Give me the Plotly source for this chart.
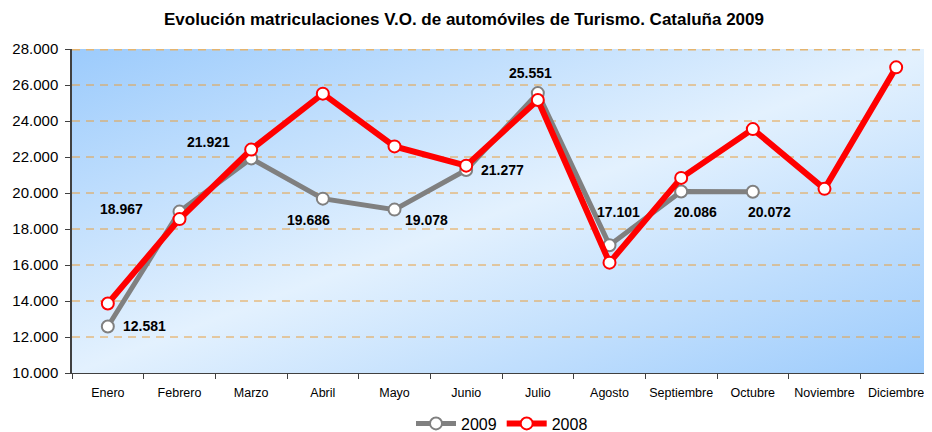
import base64
import plotly.graph_objects as go

months = ["Enero", "Febrero", "Marzo", "Abril", "Mayo", "Junio", "Julio",
          "Agosto", "Septiembre", "Octubre", "Noviembre", "Diciembre"]
v2009 = [12581, 18967, 21921, 19686, 19078, 21277, 25551, 17101, 20086, 20072]
v2008 = [13860, 18550, 22410, 25520, 22590, 21520, 25170, 16130, 20840, 23550, 20230, 26980]
y_ticks = [10000, 12000, 14000, 16000, 18000, 20000, 22000, 24000, 26000, 28000]

# label offsets (pixels) for the 2009 data labels
label_dx = [37, -58, -43, -14, 32, 36, -7, 9, 14, 17]
label_dy = [1, 3, 16, -21, -10, 0, 20, 33, -21, -20]

def fmt(v):
    return f"{v:,}".replace(",", ".")

svg = ('<svg xmlns="http://www.w3.org/2000/svg" width="100" height="100" '
       'preserveAspectRatio="none" viewBox="0 0 100 100">'
       '<defs><linearGradient id="g" x1="0" y1="0" x2="1" y2="1">'
       '<stop offset="0" stop-color="#9CCBFC"/>'
       '<stop offset="0.5" stop-color="#E3F1FE"/>'
       '<stop offset="1" stop-color="#9CCBFC"/>'
       '</linearGradient></defs>'
       '<rect width="100" height="100" fill="url(#g)"/></svg>')
bg_src = "data:image/svg+xml;base64," + base64.b64encode(svg.encode()).decode()

fig = go.Figure()
fig.add_trace(go.Scatter(
    x=months[:len(v2009)], y=v2009, name="2009", mode="lines+markers",
    line=dict(color="#808080", width=5),
    marker=dict(symbol="circle", size=12, color="white",
                line=dict(color="#808080", width=2)),
))
fig.add_trace(go.Scatter(
    x=months, y=v2008, name="2008", mode="lines+markers",
    line=dict(color="#FF0000", width=6),
    marker=dict(symbol="circle", size=12, color="white",
                line=dict(color="#FF0000", width=2)),
))

for i, v in enumerate(v2009):
    fig.add_annotation(x=months[i], y=v, text="<b>" + fmt(v) + "</b>",
                       showarrow=False, xshift=label_dx[i], yshift=label_dy[i],
                       font=dict(family="Liberation Sans, Arial", size=14, color="black"))

# dashed horizontal gridlines
for t in y_ticks[1:-1]:
    fig.add_shape(type="line", xref="paper", x0=0, x1=1, yref="y", y0=t, y1=t,
                  line=dict(color="#E8A040", width=1, dash="8px,6px"), layer="below")
fig.add_shape(type="line", xref="paper", x0=0, x1=1, yref="y",
              y0=y_ticks[-1], y1=y_ticks[-1],
              line=dict(color="#E3B470", width=3, dash="8px,6px"), layer="below")

fig.update_layout(
    width=924, height=424,
    margin=dict(l=64, r=0, t=41, b=59, autoexpand=False),
    paper_bgcolor="white", plot_bgcolor="rgba(0,0,0,0)",
    separators=",.",
    title=dict(text="<b>Evolución matriculaciones V.O. de automóviles de Turismo. Cataluña 2009</b>",
               x=0.4935, xanchor="center", y=0.974, yanchor="middle",
               font=dict(family="Liberation Sans, Arial", size=17, color="black")),
    images=[dict(source=bg_src, xref="paper", yref="paper", x=0, y=1,
                 sizex=1, sizey=1, sizing="stretch", xanchor="left",
                 yanchor="top", layer="below")],
    showlegend=True,
    legend=dict(orientation="h", x=0.5, xanchor="center",
                yref="container", y=0.02, yanchor="middle",
                font=dict(family="Liberation Sans, Arial", size=16, color="black"),
                itemwidth=40, tracegroupgap=0, bgcolor="rgba(0,0,0,0)"),
    font=dict(family="Liberation Sans, Arial", color="black"),
)
fig.update_xaxes(type="category", categoryorder="array", categoryarray=months,
                 range=[-0.5, 11.5], tickson="boundaries", ticks="outside",
                 ticklen=5, tickcolor="#404040", showline=True, linecolor="#404040",
                 linewidth=1, showgrid=False, zeroline=False, tickangle=0,
                 ticklabelstandoff=8,
                 tickfont=dict(family="Liberation Sans Narrow, Liberation Sans, Arial", size=12.5))
fig.update_yaxes(range=[y_ticks[0], y_ticks[-1]], tickvals=y_ticks,
                 tickformat=",.0f", ticks="outside", ticklen=5, tickcolor="#404040",
                 showline=True, linecolor="#404040", linewidth=1.5,
                 showgrid=False, zeroline=False, ticklabelstandoff=4,
                 tickfont=dict(family="Liberation Sans, Arial", size=15))

fig.write_html("out.html")
